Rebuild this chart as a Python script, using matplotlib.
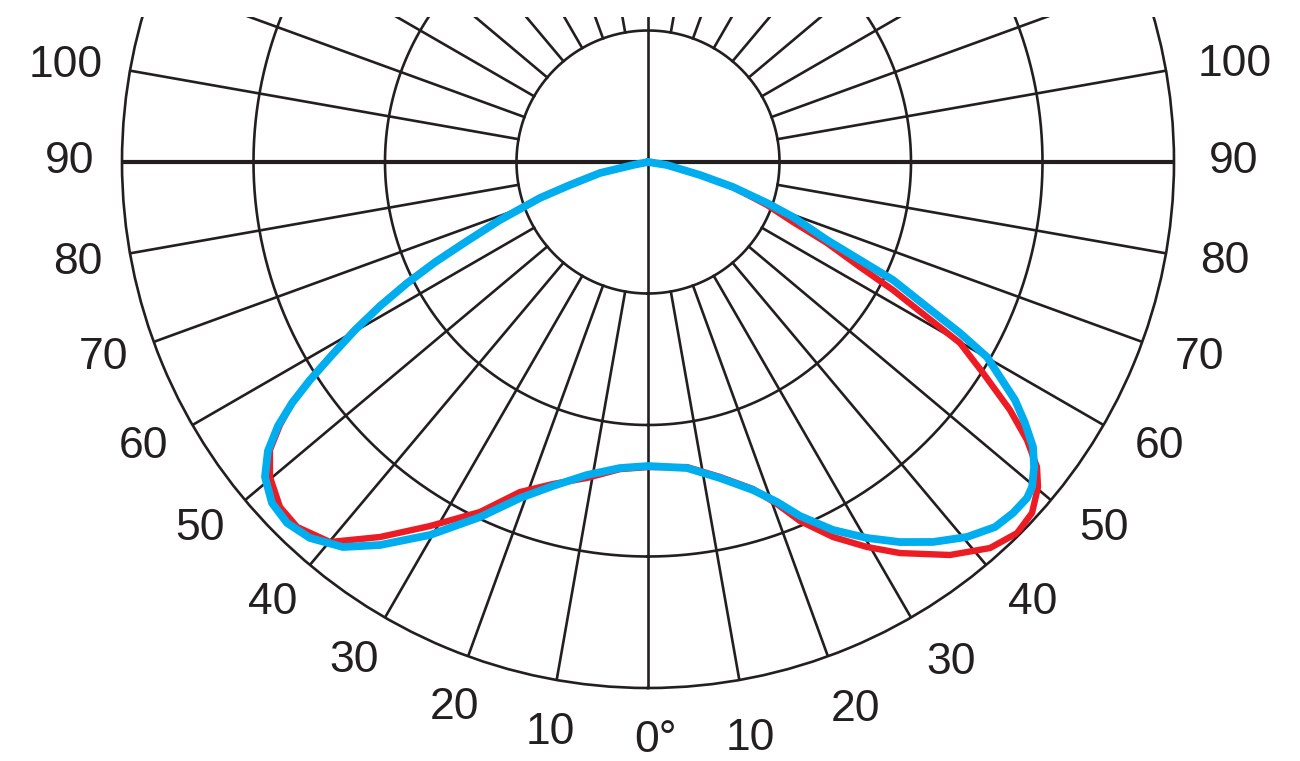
import numpy as np
import matplotlib
matplotlib.use('Agg')
import matplotlib.pyplot as plt
from matplotlib.patches import Rectangle

plt.rcParams['font.family'] = ['Liberation Sans', 'DejaVu Sans']

# Polar intensity data, angle in degrees from nadir (right side positive),
# intensity on a 0-400 scale (rings at 100, 200, 300, 400)
blue_angles = [-82, -78.7, -77.1, -73.6, -71.6, -68.6, -66.4, -64.8, -63.3, -61.75,
               -60.17, -58.58, -57.18, -55.9, -54.5, -52.75, -50.57, -47.8, -45, -41.96,
               -38.38, -34.98, -30.3, -25.3, -20.85, -16.34, -11.03, -5.23, 0,
               7.26, 12.84, 17.75, 20.78, 23.24, 26.69, 30.22, 33.55, 36.87, 40.39,
               43.55, 46.12, 48.44, 49.76, 51.69, 53.49, 55.3, 57.04, 58.58, 60.09,
               61.27, 62.54, 64.28, 65.19, 66.45, 69.23, 71.0, 73.6, 75.96, 81.0, 82]
blue_values = [0, 11.6, 37.4, 61.8, 86.5, 120.9, 150.2, 178.9, 205.1, 231.3,
               256.8, 281.6, 305.9, 326.9, 345.6, 363.1, 377.1, 386.0, 388.2, 384.5,
               373.5, 355.5, 328.5, 298.6, 273.5, 256.7, 242.5, 233.7, 231.2,
               234.6, 246.5, 261.9, 276.5, 293.0, 313.2, 330.9, 346.8, 361.2, 374.4,
               383.0, 385.1, 385.2, 382.6, 374.2, 364.3, 348.7, 332.6, 313.7, 297.4,
               270.6, 239.1, 206.8, 177.7, 148.5, 118.0, 95.7, 67.4, 40.8, 14.6, 0]

red_angles = [-82, -78.7, -77.1, -73.6, -71.6, -68.6, -66.4, -64.8, -63.3, -61.75,
              -60.17, -58.58, -57.18, -55.9, -54.45, -52.7, -50.2, -46.85, -43.88, -39.92,
              -35.55, -30.92, -25.64, -21.2, -16.44, -10.93, -5.21, 0,
              7.29, 12.88, 17.8, 20.67, 22.95, 26.26, 29.63, 32.8, 37.54, 41.54,
              44.84, 47.58, 50.19, 51.9, 53.74, 55.58, 57.8, 58.65, 59.88, 60.94,
              62.41, 63.65, 65.65, 67.52, 70.13, 73.6, 75.96, 81.0, 82]
red_values = [0, 11.6, 37.4, 61.8, 86.5, 121.5, 151.0, 179.5, 205.5, 231.8,
              257.2, 282.0, 306.0, 327.0, 344.0, 361.4, 374.2, 383.6, 385.0, 376.8,
              350.5, 322.7, 295.2, 269.2, 255.3, 244.7, 234.5, 232.0,
              233.9, 245.7, 261.2, 278.0, 296.5, 318.0, 336.8, 353.8, 376.9, 392.2,
              398.0, 395.6, 386.1, 375.9, 357.4, 333.7, 301.1, 289.4, 274.3, 242.7,
              210.2, 179.9, 149.4, 119.3, 96.2, 67.4, 40.8, 14.6, 0]

ring_values = [100, 200, 300]
spoke_angles = list(range(0, 360, 10))
label_values = [10, 20, 30, 40, 50, 60, 70, 80, 90, 100]

ink = '#231F20'

fig = plt.figure(figsize=(13, 7.61), dpi=100)
ax = fig.add_axes([122 / 1300, 73 / 761, 1052 / 1300, 1052 / 761], projection='polar')
ax.set_theta_zero_location('S')
ax.set_ylim(0, 400)
ax.set_xticks([])
ax.set_yticks([])
ax.grid(False)
ax.spines['polar'].set_linewidth(1.9)
ax.spines['polar'].set_color(ink)

full = np.linspace(0, 2 * np.pi, 500)
for rv in ring_values:
    ax.plot(full, np.full_like(full, rv), color=ink, lw=1.9)

for a in spoke_angles:
    t = np.radians(a)
    if a in (0, 180):
        ax.plot([t, t], [0, 400], color=ink, lw=1.9)
    elif a in (90, 270):
        ax.plot([t, t], [0, 400], color=ink, lw=3.0)
    else:
        ax.plot([t, t], [100, 400], color=ink, lw=1.9)

ax.plot(np.radians(red_angles), red_values, color='#ED1C24', lw=4.6,
        solid_capstyle='round', solid_joinstyle='round', zorder=5)
ax.plot(np.radians(blue_angles), blue_values, color='#00AEEF', lw=5.6,
        solid_capstyle='round', solid_joinstyle='round', zorder=6)

# label placement (small angular shifts as in the original artwork)
left_shift = [-0.3, -0.5, 0.5, 0.4, 0.7, 0.6, 0.2, 0.0, 0.0, -0.6]
right_shift = [0.1, 0.8, 1.2, 1.1, 1.2, 0.9, 0.5, 0.2, 0.0, -0.6]
for a, ls, rs in zip(label_values, left_shift, right_shift):
    r_left = 449 if a == 100 else 440
    r_right = 452 if a == 100 else 445
    ax.text(np.radians(-(a + ls)), r_left, str(a), ha='center', va='center',
            fontsize=32, color=ink, clip_on=False)
    ax.text(np.radians(a + rs), r_right, str(a), ha='center', va='center',
            fontsize=32, color=ink, clip_on=False)
ax.text(np.radians(0.7), 440, '0°', ha='center', va='center',
        fontsize=32, color=ink, clip_on=False)

# crop band at the top, as in the original
fig.add_artist(Rectangle((0, 1 - 17 / 761), 1, 17 / 761, transform=fig.transFigure,
                         facecolor='white', edgecolor='none', zorder=20))

fig.savefig('out.png', dpi=100)
